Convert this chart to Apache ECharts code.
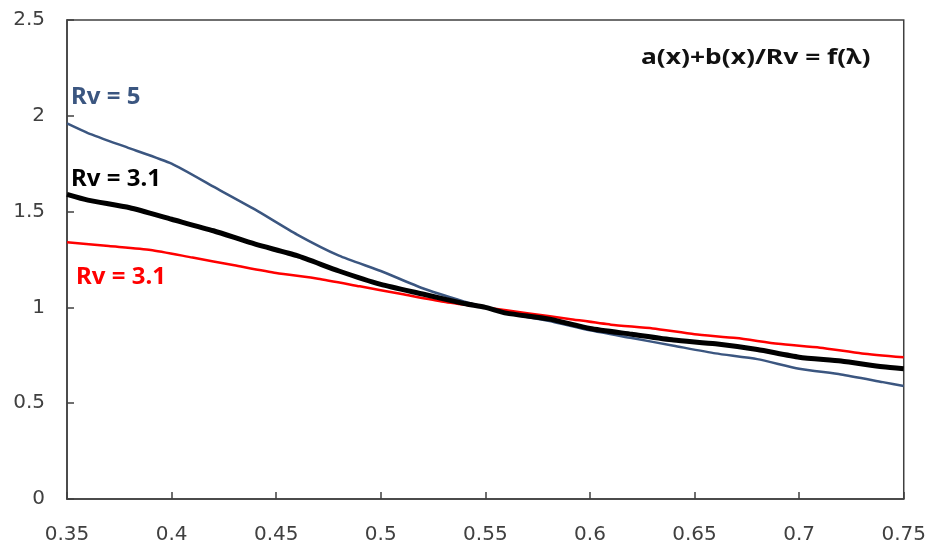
<!DOCTYPE html>
<html><head><meta charset="utf-8">
<script src="https://cdn.jsdelivr.net/npm/echarts@6/dist/echarts.min.js"></script>
<style>html,body{margin:0;padding:0;background:#fff}#c{width:929px;height:546px}</style>
</head><body><div id="c"></div>
<script>
const xTicks = [0.35,0.4,0.45,0.5,0.55,0.6,0.65,0.7,0.75];
const yTicks = [0,0.5,1,1.5,2,2.5];

const rv5X = [0.35,0.36,0.38,0.40,0.42,0.44,0.46,0.48,0.50,0.52,0.54,0.55,0.56,0.58,0.60,0.62,0.64,0.66,0.68,0.70,0.72,0.74,0.75];
const rv5Y = [1.96,1.91,1.83,1.75,1.63,1.51,1.38,1.27,1.19,1.10,1.03,1.00,0.97,0.93,0.88,0.84,0.80,0.76,0.73,0.68,0.65,0.61,0.59];

const rv31X = [0.35,0.36,0.38,0.40,0.42,0.44,0.46,0.48,0.50,0.52,0.54,0.55,0.56,0.58,0.60,0.62,0.64,0.66,0.68,0.70,0.72,0.74,0.75];
const rv31Y = [1.59,1.56,1.52,1.46,1.40,1.33,1.27,1.19,1.12,1.07,1.02,1.00,0.97,0.94,0.89,0.86,0.83,0.81,0.78,0.74,0.72,0.69,0.68];

const redX = [0.35,0.37,0.39,0.41,0.43,0.45,0.47,0.49,0.51,0.53,0.55,0.57,0.59,0.61,0.63,0.65,0.67,0.69,0.71,0.73,0.75];
const redY = [1.34,1.32,1.30,1.26,1.22,1.18,1.15,1.11,1.07,1.03,1.00,0.97,0.94,0.91,0.89,0.86,0.84,0.81,0.79,0.76,0.74];

const pairs = (xs, ys) => xs.map((x, i) => [x, ys[i]]);
const TICKFONT = 'DejaVu Sans';
const axisColor = '#404040';

const chart = echarts.init(document.getElementById('c'), null, {renderer: 'canvas'});
chart.setOption({
  animation: false,
  backgroundColor: '#fff',
  grid: {left: 67, right: 25, top: 20, bottom: 47, show: true, borderColor: axisColor, borderWidth: 1.5, backgroundColor: 'transparent'},
  xAxis: {
    type: 'value', min: xTicks[0], max: xTicks[xTicks.length-1], interval: 0.05,
    axisLine: {show: true, lineStyle: {color: axisColor, width: 1.5}},
    axisTick: {show: true, inside: true, length: 7, lineStyle: {color: axisColor, width: 1.5}},
    splitLine: {show: false},
    axisLabel: {margin: 26, fontFamily: TICKFONT, fontSize: 20, color: '#404040', formatter: v => String(+v.toFixed(2))}
  },
  yAxis: {
    type: 'value', min: yTicks[0], max: yTicks[yTicks.length-1], interval: 0.5,
    axisLine: {show: true, lineStyle: {color: axisColor, width: 1.5}},
    axisTick: {show: true, inside: true, length: 7, lineStyle: {color: axisColor, width: 1.5}},
    splitLine: {show: false},
    axisLabel: {margin: 22, fontFamily: TICKFONT, fontSize: 20, color: '#404040', formatter: v => String(+v.toFixed(2))}
  },
  series: [
    {name: 'Rv = 3.1 (red)', type: 'line', data: pairs(redX, redY), showSymbol: false, smooth: 0.2,
     lineStyle: {color: '#ff0000', width: 2.5}, z: 2},
    {name: 'Rv = 5', type: 'line', data: pairs(rv5X, rv5Y), showSymbol: false, smooth: 0.2,
     lineStyle: {color: '#3b5680', width: 2.5}, z: 3},
    {name: 'Rv = 3.1', type: 'line', data: pairs(rv31X, rv31Y), showSymbol: false, smooth: 0.2,
     lineStyle: {color: '#000000', width: 5}, z: 4}
  ],
  graphic: [
    {type: 'text', left: 71, top: 85, style: {text: 'Rv = 5', fill: '#3b5680', font: 'bold 24px "Noto Sans"'}},
    {type: 'text', left: 71, top: 167, style: {text: 'Rv = 3.1', fill: '#000000', font: 'bold 24px "Noto Sans"'}},
    {type: 'text', left: 76, top: 265, style: {text: 'Rv = 3.1', fill: '#ff0000', font: 'bold 24px "Noto Sans"'}},
    {type: 'text', left: 641, top: 47, scaleX: 1.2, style: {text: 'a(x)+b(x)/Rv = f(λ)', fill: '#111', font: 'bold 22px "Noto Sans"'}}
  ]
});
</script>
</body></html>
